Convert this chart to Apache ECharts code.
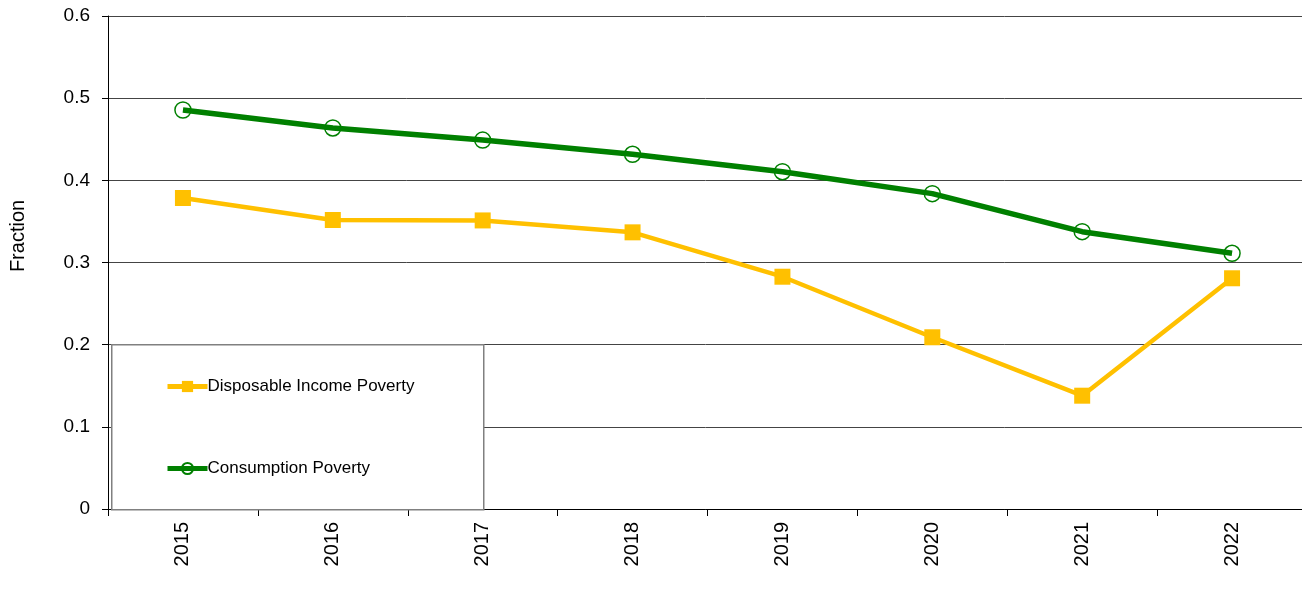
<!DOCTYPE html>
<html>
<head>
<meta charset="utf-8">
<script src="https://cdn.jsdelivr.net/npm/echarts@6/dist/echarts.min.js"></script>
<style>
  html, body { margin: 0; padding: 0; background: #fff; }
  #chart { width: 1302px; height: 604px; }
</style>
</head>
<body>
<div id="chart"></div>
<script>
// Poverty rates by year
const years = ['2015', '2016', '2017', '2018', '2019', '2020', '2021', '2022'];
const disposableIncomePoverty = [0.3785, 0.3517, 0.3512, 0.3367, 0.2827, 0.2090, 0.1379, 0.2808];
const consumptionPoverty = [0.4856, 0.4637, 0.4490, 0.4317, 0.4105, 0.3838, 0.3375, 0.3112];
const yTicks = [0, 0.1, 0.2, 0.3, 0.4, 0.5, 0.6];

const FONT = '"Liberation Sans", Arial, sans-serif';
const chart = echarts.init(document.getElementById('chart'));

chart.setOption({
  animation: false,
  backgroundColor: '#ffffff',
  grid: {
    left: 108, top: 16, width: 1199, height: 493,
    containLabel: false, outerBoundsMode: 'none'
  },
  graphic: [
    {
      type: 'rect',
      left: 111, top: 344, z: 5,
      shape: { width: 372, height: 165 },
      style: { fill: '#ffffff', stroke: '#808080', lineWidth: 1.5 }
    },
    {
      type: 'text',
      x: 18, y: 236, rotation: Math.PI / 2, z: 5,
      style: {
        text: 'Fraction', font: '20px ' + FONT, fill: '#000',
        textAlign: 'center', textVerticalAlign: 'middle'
      }
    }
  ],
  legend: {
    orient: 'vertical',
    left: 160, top: 373, z: 10,
    itemWidth: 40, itemHeight: 14, itemGap: 65,
    lineStyle: { width: 5 },
    textStyle: { fontFamily: FONT, fontSize: 17, color: '#000', padding: [0, 0, 0, -5] },
    data: ['Disposable Income Poverty', 'Consumption Poverty']
  },
  xAxis: {
    type: 'category',
    data: years,
    boundaryGap: true,
    axisLine: { lineStyle: { color: '#000', width: 1 } },
    axisTick: { show: true, length: 7, lineStyle: { color: '#000' } },
    axisLabel: { rotate: 90, margin: 13, fontFamily: FONT, fontSize: 20, color: '#000' },
    splitLine: { show: false }
  },
  yAxis: {
    type: 'value',
    min: yTicks[0], max: yTicks[yTicks.length - 1], interval: 0.1,
    axisLine: { show: true, lineStyle: { color: '#000', width: 1 } },
    axisTick: { show: true, length: 6, lineStyle: { color: '#000' } },
    axisLabel: {
      margin: 18, fontFamily: FONT, fontSize: 19, color: '#000',
      formatter: v => (Math.round(v * 10) / 10).toString()
    },
    splitLine: { show: true, lineStyle: { color: '#444', width: 1 } }
  },
  series: [
    {
      name: 'Disposable Income Poverty',
      type: 'line',
      data: disposableIncomePoverty,
      symbol: 'rect', symbolSize: 16,
      lineStyle: { color: '#FFC000', width: 4.5 },
      itemStyle: { color: '#FFC000' },
      z: 3
    },
    {
      name: 'Consumption Poverty',
      type: 'line',
      data: consumptionPoverty,
      symbol: 'circle', symbolSize: 16,
      lineStyle: { color: '#008000', width: 5.5 },
      itemStyle: { color: 'rgba(255,255,255,0)', borderColor: '#008000', borderWidth: 1.5 },
      z: 3
    }
  ]
});
</script>
</body>
</html>
